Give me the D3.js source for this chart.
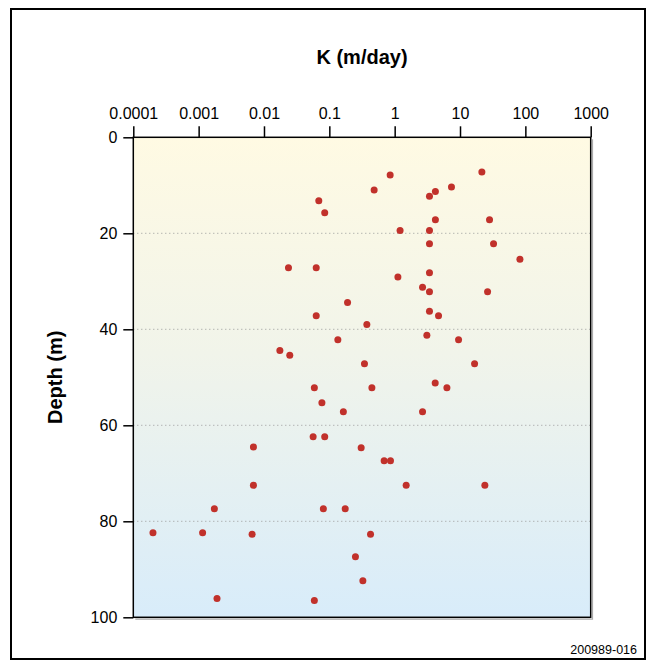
<!DOCTYPE html>
<html>
<head>
<meta charset="utf-8">
<script src="https://cdn.jsdelivr.net/npm/d3@7"></script>
<style>
  html, body { margin: 0; padding: 0; background: #fff; }
  svg { display: block; }
  text { font-family: "Liberation Sans", Arial, Helvetica, sans-serif; fill: #000; }
</style>
</head>
<body>
<svg id="chart" width="651" height="662"></svg>
<script>
// Data: hydraulic conductivity K (m/day) vs depth (m)
const kValues = [
  0.853, 21.6, 7.4, 0.485, 4.2, 3.41, 0.069, 0.085, 4.2, 28.3,
  1.21, 3.41, 3.41, 32.6, 82.6, 0.0237, 0.063, 3.41, 1.12, 2.67,
  3.41, 26.4, 0.19, 3.41, 0.063, 4.69, 0.375, 3.11, 0.135, 9.5,
  0.0175, 0.0248, 0.345, 16.7, 4.17, 0.059, 0.448, 6.3, 0.077, 0.164,
  2.67, 0.0565, 0.085, 0.00689, 0.307, 0.69, 0.863, 0.00689, 1.5, 24.0,
  0.00174, 0.081, 0.175, 0.0002, 0.00115, 0.00658, 0.427, 0.251, 0.326, 0.00191,
  0.059
];
const depthValues = [
  7.85, 7.23, 10.35, 11.0, 11.3, 12.3, 13.2, 15.7, 17.2, 17.2,
  19.4, 19.4, 22.2, 22.2, 25.4, 27.2, 27.2, 28.2, 29.1, 31.25,
  32.2, 32.2, 34.4, 36.25, 37.2, 37.2, 39.0, 41.25, 42.2, 42.2,
  44.4, 45.4, 47.2, 47.2, 51.2, 52.2, 52.2, 52.2, 55.3, 57.2,
  57.2, 62.4, 62.4, 64.5, 64.7, 67.4, 67.4, 72.5, 72.5, 72.5,
  77.4, 77.4, 77.4, 82.4, 82.4, 82.7, 82.7, 87.4, 92.4, 96.1,
  96.5
];
const xTickValues = [0.0001, 0.001, 0.01, 0.1, 1, 10, 100, 1000];
const xTickLabels = ["0.0001", "0.001", "0.01", "0.1", "1", "10", "100", "1000"];
const yTickValues = [0, 20, 40, 60, 80, 100];
const gridDepths = [20, 40, 60, 80];
const xTitle = "K (m/day)";
const yTitle = "Depth (m)";
const figureId = "200989-016";

const svg = d3.select("#chart");
const W = 651, H = 662;
const plot = { left: 133.3, right: 590.7, top: 137.3, bottom: 617.3 };

const x = d3.scaleLog().domain([0.0001, 1000]).range([plot.left, plot.right]);
const y = d3.scaleLinear().domain([0, 100]).range([plot.top, plot.bottom]);

// gradient background
const defs = svg.append("defs");
const grad = defs.append("linearGradient").attr("id", "bg").attr("x1", 0).attr("y1", 0).attr("x2", 0).attr("y2", 1);
grad.append("stop").attr("offset", "0%").attr("stop-color", "#fffae3");
grad.append("stop").attr("offset", "45%").attr("stop-color", "#f1f4ea");
grad.append("stop").attr("offset", "100%").attr("stop-color", "#d8ecfa");

// outer frame
svg.append("rect").attr("x", 11).attr("y", 9).attr("width", 634).attr("height", 650)
  .attr("fill", "none").attr("stroke", "#000").attr("stroke-width", 2);

// plot background
svg.append("rect").attr("x", plot.left).attr("y", plot.top)
  .attr("width", plot.right - plot.left).attr("height", plot.bottom - plot.top)
  .attr("fill", "url(#bg)");

// gridlines
svg.append("g").selectAll("line").data(gridDepths).join("line")
  .attr("x1", plot.left).attr("x2", plot.right)
  .attr("y1", d => y(d)).attr("y2", d => y(d))
  .attr("stroke", "#9a9a9a").attr("stroke-width", 1).attr("stroke-dasharray", "1,3");

// shadow line on right / bottom
svg.append("path")
  .attr("d", `M${plot.right + 1.8},${plot.top + 2} V${plot.bottom + 1.8} H${plot.left + 2}`)
  .attr("fill", "none").attr("stroke", "#aaa").attr("stroke-width", 1.2);

// plot border
svg.append("rect").attr("x", plot.left).attr("y", plot.top)
  .attr("width", plot.right - plot.left).attr("height", plot.bottom - plot.top)
  .attr("fill", "none").attr("stroke", "#000").attr("stroke-width", 1.5);

// top axis
const xAxis = d3.axisTop(x).tickValues(xTickValues)
  .tickFormat((d, i) => xTickLabels[i]).tickSize(11).tickPadding(7);
const gx = svg.append("g").attr("transform", `translate(0,${plot.top})`).call(xAxis);
gx.select(".domain").remove();
gx.selectAll(".tick line").attr("stroke", "#000").attr("stroke-width", 1.5);
gx.selectAll(".tick text").attr("font-size", 16).attr("fill", "#000")
  .style("font-family", '"Liberation Sans", Arial, sans-serif');

// left axis
const yAxis = d3.axisLeft(y).tickValues(yTickValues).tickSize(10).tickPadding(6);
const gy = svg.append("g").attr("transform", `translate(${plot.left},0)`).call(yAxis);
gy.select(".domain").remove();
gy.selectAll(".tick line").attr("stroke", "#000").attr("stroke-width", 1.5);
gy.selectAll(".tick text").attr("font-size", 16).attr("fill", "#000")
  .style("font-family", '"Liberation Sans", Arial, sans-serif');

// points
const pts = kValues.map((k, i) => ({ k, d: depthValues[i] }));
svg.append("g").selectAll("circle").data(pts).join("circle")
  .attr("cx", p => x(p.k)).attr("cy", p => y(p.d)).attr("r", 3.5)
  .attr("fill", "#c1312b");

// titles
svg.append("text").attr("x", (plot.left + plot.right) / 2).attr("y", 64)
  .attr("text-anchor", "middle").attr("font-size", 20).attr("font-weight", "bold").text(xTitle);

svg.append("text").attr("transform", `translate(62,${(plot.top + plot.bottom) / 2}) rotate(-90)`)
  .attr("text-anchor", "middle").attr("font-size", 20).attr("font-weight", "bold").text(yTitle);

svg.append("text").attr("x", 637).attr("y", 654).attr("text-anchor", "end")
  .attr("font-size", 12.5).text(figureId);
</script>
</body>
</html>
